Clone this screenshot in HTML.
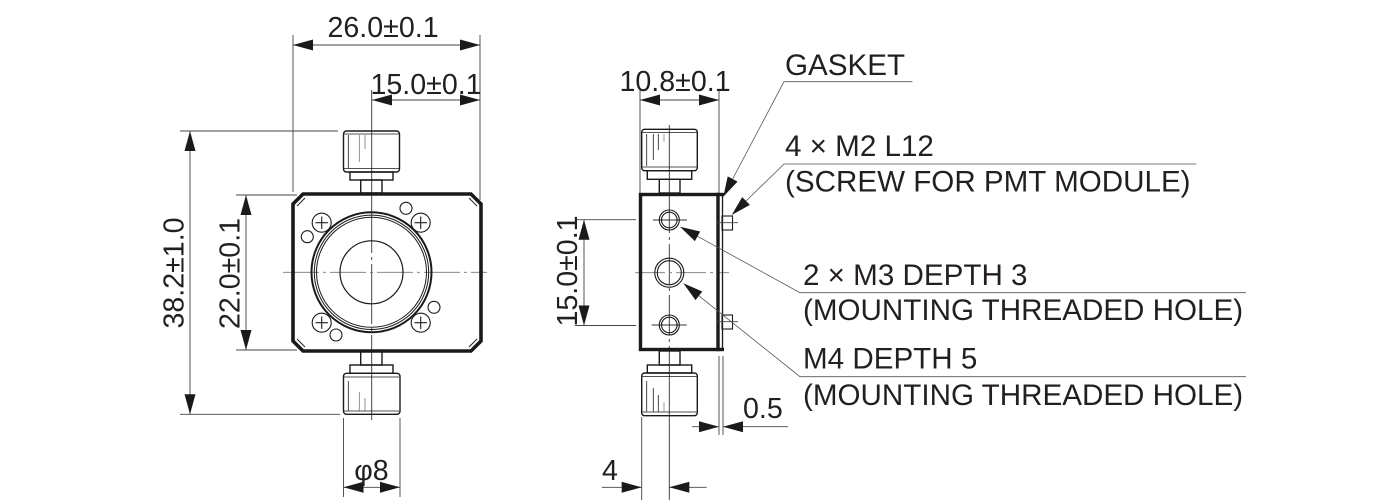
<!DOCTYPE html>
<html>
<head>
<meta charset="utf-8">
<style>
html,body{margin:0;padding:0;background:#fff;}
svg{display:block;}
text{font-family:"Liberation Sans",Arial,sans-serif;font-size:28.6px;fill:#231f20;}
text.lb{font-size:29.6px;}
</style>
</head>
<body>
<svg width="1400" height="500" viewBox="0 0 1400 500" xmlns="http://www.w3.org/2000/svg">
<g fill="none" stroke-linecap="butt">

<!-- ============ LEFT VIEW ============ -->
<g stroke="#444" stroke-width="0.9">
  <line x1="293" y1="35" x2="293" y2="192"/>
  <line x1="480" y1="35" x2="480" y2="200"/>
  <line x1="293" y1="45" x2="480" y2="45"/>
  <line x1="372" y1="100" x2="480" y2="100"/>
  <line x1="180" y1="131" x2="338" y2="131"/>
  <line x1="180" y1="414.3" x2="340" y2="414.3"/>
  <line x1="190" y1="131" x2="190" y2="414"/>
  <line x1="236" y1="195" x2="297" y2="195"/>
  <line x1="236" y1="350" x2="297" y2="350"/>
  <line x1="246" y1="195" x2="246" y2="350"/>
  <line x1="343.5" y1="418" x2="343.5" y2="497"/>
  <line x1="400" y1="418" x2="400" y2="497"/>
  <line x1="343.5" y1="487.3" x2="400" y2="487.3"/>
</g>
<g stroke="#333" stroke-width="0.9">
  <line x1="371.7" y1="90" x2="371.7" y2="193"/>
  <line x1="371.7" y1="193" x2="371.7" y2="352" stroke-dasharray="60 4 3 4"/>
  <line x1="371.7" y1="352" x2="371.7" y2="420"/>
  <line x1="283" y1="272.3" x2="487" y2="272.3" stroke="#777" stroke-dasharray="36 4 3 4"/>
</g>

<polygon points="303,194 471,194 481,204 481,341 471,351 303,351 293,341 293,204" stroke="#1a1a1a" stroke-width="3.6" stroke-linejoin="miter"/>
<g stroke="#1a1a1a" stroke-width="0.9">
  <line x1="297" y1="206" x2="305" y2="198"/>
  <line x1="469" y1="198" x2="477" y2="206"/>
  <line x1="297" y1="339" x2="305" y2="347"/>
  <line x1="469" y1="347" x2="477" y2="339"/>
</g>

<g stroke="#1a1a1a">
  <circle cx="371.5" cy="272.3" r="60" stroke-width="2"/>
  <circle cx="371.5" cy="272.3" r="57.2" stroke-width="1"/>
  <circle cx="371.5" cy="272.3" r="55" stroke-width="1"/>
  <circle cx="371.5" cy="272.3" r="31.5" stroke-width="1.2"/>
</g>
<g stroke="#1a1a1a" stroke-width="1.1">
  <circle cx="321.7" cy="222.7" r="9.5"/>
  <line x1="315.5" y1="222.7" x2="327.9" y2="222.7"/><line x1="321.7" y1="216.5" x2="321.7" y2="228.9"/>
  <circle cx="420.7" cy="222.7" r="9.5"/>
  <line x1="414.5" y1="222.7" x2="426.9" y2="222.7"/><line x1="420.7" y1="216.5" x2="420.7" y2="228.9"/>
  <circle cx="321.7" cy="322.7" r="9.5"/>
  <line x1="315.5" y1="322.7" x2="327.9" y2="322.7"/><line x1="321.7" y1="316.5" x2="321.7" y2="328.9"/>
  <circle cx="420.7" cy="322.7" r="9.5"/>
  <line x1="414.5" y1="322.7" x2="426.9" y2="322.7"/><line x1="420.7" y1="316.5" x2="420.7" y2="328.9"/>
  <circle cx="307.3" cy="236.7" r="6"/>
  <circle cx="406" cy="208.3" r="6"/>
  <circle cx="434" cy="307.3" r="6"/>
  <circle cx="336" cy="335" r="6"/>
</g>

<g stroke="#1a1a1a" stroke-width="1.4">
  <rect x="343.5" y="131" width="56" height="41" rx="3"/>
  <rect x="350" y="172" width="43" height="8"/>
  <rect x="360.7" y="180" width="21.3" height="13"/>
  <line x1="344" y1="134" x2="399" y2="134" stroke-width="0.8"/>
  <line x1="344" y1="168.5" x2="399" y2="168.5" stroke-width="0.8"/>
</g>
<g stroke="#1a1a1a" stroke-width="0.8">
  <line x1="348.3" y1="135" x2="348.3" y2="168"/>
  <line x1="359.3" y1="135" x2="359.3" y2="162" stroke="#777"/>
  <line x1="365" y1="135" x2="365" y2="149" stroke="#777"/>
</g>
<g stroke="#1a1a1a" stroke-width="1.4">
  <rect x="360.7" y="351" width="21.3" height="14"/>
  <rect x="350" y="365" width="43" height="8.3"/>
  <rect x="343.5" y="373.3" width="56.5" height="41" rx="3"/>
  <line x1="344" y1="377" x2="399" y2="377" stroke-width="0.8"/>
  <line x1="344" y1="411" x2="399" y2="411" stroke-width="0.8"/>
</g>
<g stroke="#1a1a1a" stroke-width="0.8">
  <line x1="348.3" y1="381" x2="348.3" y2="410.5"/>
  <line x1="359.3" y1="392" x2="359.3" y2="410.5" stroke="#777"/>
  <line x1="365" y1="398" x2="365" y2="410.5" stroke="#777"/>
</g>

<!-- ============ RIGHT VIEW ============ -->
<g stroke="#444" stroke-width="0.9">
  <line x1="640" y1="90" x2="640" y2="193"/>
  <line x1="719" y1="90" x2="719" y2="193"/>
  <line x1="640" y1="100" x2="719" y2="100"/>
  <line x1="575" y1="219.7" x2="636" y2="219.7"/>
  <line x1="575" y1="325.5" x2="636" y2="325.5"/>
  <line x1="584" y1="219.7" x2="584" y2="325.5"/>
  <line x1="719" y1="356" x2="719" y2="435"/>
  <line x1="723" y1="356" x2="723" y2="435"/>
  <line x1="692" y1="426.7" x2="719" y2="426.7"/>
  <line x1="723" y1="426.7" x2="788" y2="426.7"/>
  <line x1="641.7" y1="417" x2="641.7" y2="500"/>
  <line x1="601.7" y1="487.3" x2="641.7" y2="487.3"/>
  <line x1="669.3" y1="487.3" x2="706.7" y2="487.3"/>
</g>
<g stroke="#333" stroke-width="0.9">
  <line x1="669.3" y1="125" x2="669.3" y2="193"/>
  <line x1="669.3" y1="193" x2="669.3" y2="352" stroke-dasharray="40 4 3 4"/>
  <line x1="669.3" y1="352" x2="669.3" y2="500"/>
  <line x1="653" y1="220" x2="687" y2="220"/>
  <line x1="635" y1="272.7" x2="729" y2="272.7" stroke="#777" stroke-dasharray="30 4 3 4"/>
  <line x1="651.7" y1="325" x2="686.7" y2="325"/>
</g>

<rect x="640.5" y="194.5" width="77.5" height="155" stroke="#1a1a1a" stroke-width="3.4"/>
<g stroke="#1a1a1a">
  <line x1="716" y1="194.5" x2="724" y2="194.5" stroke-width="3.4"/>
  <line x1="716" y1="349.5" x2="724" y2="349.5" stroke-width="3.4"/>
  <line x1="722.5" y1="194.5" x2="722.5" y2="349.5" stroke-width="1.3"/>
</g>
<g stroke="#1a1a1a" stroke-width="1.1">
  <circle cx="669.3" cy="220" r="10"/>
  <circle cx="669.3" cy="220" r="7.8"/>
  <circle cx="669.3" cy="272.7" r="14.5"/>
  <circle cx="669.3" cy="272.7" r="12"/>
  <circle cx="669.3" cy="325" r="10"/>
  <circle cx="669.3" cy="325" r="7.8"/>
</g>
<g stroke="#1a1a1a" stroke-width="1.1">
  <rect x="722" y="216" width="10.5" height="14"/>
  <rect x="722" y="315" width="10.5" height="14"/>
</g>
<g stroke="#444" stroke-width="0.8">
  <line x1="717" y1="222.7" x2="738" y2="222.7"/>
  <line x1="717" y1="321.7" x2="738" y2="321.7"/>
</g>

<g stroke="#1a1a1a" stroke-width="1.4">
  <rect x="641.7" y="129.3" width="55.6" height="41.4" rx="3"/>
  <rect x="647.3" y="170.7" width="44.4" height="8.6"/>
  <rect x="659.3" y="179.3" width="20.7" height="13.7"/>
  <line x1="642.5" y1="132.5" x2="696.5" y2="132.5" stroke-width="0.8"/>
  <line x1="642.5" y1="167" x2="696.5" y2="167" stroke-width="0.8"/>
</g>
<g stroke="#1a1a1a" stroke-width="0.8">
  <line x1="646.7" y1="134" x2="646.7" y2="166"/>
  <line x1="653.3" y1="134" x2="653.3" y2="160"/>
  <line x1="658.3" y1="134" x2="658.3" y2="150"/>
  <line x1="664" y1="134" x2="664" y2="142" stroke="#888"/>
</g>
<g stroke="#1a1a1a" stroke-width="1.4">
  <rect x="659.3" y="351" width="20.7" height="14"/>
  <rect x="647.3" y="365" width="44.4" height="8"/>
  <rect x="641.7" y="373" width="55.6" height="42.7" rx="3"/>
  <line x1="642.5" y1="376.5" x2="696.5" y2="376.5" stroke-width="0.8"/>
  <line x1="642.5" y1="412" x2="696.5" y2="412" stroke-width="0.8"/>
</g>
<g stroke="#1a1a1a" stroke-width="0.8">
  <line x1="646.7" y1="381" x2="646.7" y2="411.5"/>
  <line x1="653.3" y1="388" x2="653.3" y2="411.5"/>
  <line x1="658.3" y1="395" x2="658.3" y2="411.5"/>
  <line x1="664" y1="402" x2="664" y2="411.5" stroke="#888"/>
</g>

<!-- leaders -->
<g stroke="#555" stroke-width="0.8">
  <polyline points="912.5,81.7 784,81.7 732.6,179"/>
  <polyline points="1196.4,164 784,164 746,201"/>
  <polyline points="1246,292.7 800,292.7 697.5,236.3"/>
  <polyline points="1246,376.7 800,376.7 698.9,295.8"/>
</g>
</g>

<g fill="#1a1a1a" stroke="none">
  <polygon points="293,45 313,39.5 313,50.5"/>
  <polygon points="480,45 460,39.5 460,50.5"/>
  <polygon points="372,100 392,94.5 392,105.5"/>
  <polygon points="480,100 460,94.5 460,105.5"/>
  <polygon points="190,131 184.5,151 195.5,151"/>
  <polygon points="190,414.3 184.5,394.3 195.5,394.3"/>
  <polygon points="246,195 240.5,215 251.5,215"/>
  <polygon points="246,350 240.5,330 251.5,330"/>
  <polygon points="343.5,487.3 363.5,481.8 363.5,492.8"/>
  <polygon points="400,487.3 380,481.8 380,492.8"/>
  <polygon points="640,100 660,94.5 660,105.5"/>
  <polygon points="719,100 699,94.5 699,105.5"/>
  <polygon points="584,219.7 578.5,239.7 589.5,239.7"/>
  <polygon points="584,325.5 578.5,305.5 589.5,305.5"/>
  <polygon points="719,426.7 699,421.2 699,432.2"/>
  <polygon points="723,426.7 743,421.2 743,432.2"/>
  <polygon points="641.7,487.3 621.7,481.8 621.7,492.8"/>
  <polygon points="669.3,487.3 689.3,481.8 689.3,492.8"/>
  <polygon points="723.3,196.7 737.5,181.6 727.7,176.4"/>
  <polygon points="731.7,215 749.9,204.9 742.2,197.1"/>
  <polygon points="680,226.7 694.9,241.1 700.2,231.5"/>
  <polygon points="683.3,283.3 695.5,300.1 702.3,291.5"/>
</g>

<text x="327.5" y="37">26.0±0.1</text>
<text x="370.5" y="94">15.0±0.1</text>
<text transform="translate(183.5,273) rotate(-90)" text-anchor="middle">38.2±1.0</text>
<text transform="translate(239.5,273.5) rotate(-90)" text-anchor="middle">22.0±0.1</text>
<text x="371.5" y="480" text-anchor="middle">φ8</text>

<text x="619.5" y="91">10.8±0.1</text>
<text transform="translate(577,271) rotate(-90)" text-anchor="middle">15.0±0.1</text>
<text x="743" y="418">0.5</text>
<text x="602" y="480">4</text>

<text class="lb" x="785" y="75">GASKET</text>
<text class="lb" x="785" y="156">4 × M2 L12</text>
<text class="lb" x="785" y="191.7">(SCREW FOR PMT MODULE)</text>
<text class="lb" x="803" y="285">2 × M3 DEPTH 3</text>
<text class="lb" x="803" y="320">(MOUNTING THREADED HOLE)</text>
<text class="lb" x="803" y="368.3">M4 DEPTH 5</text>
<text class="lb" x="803" y="405">(MOUNTING THREADED HOLE)</text>
</svg>
</body>
</html>
